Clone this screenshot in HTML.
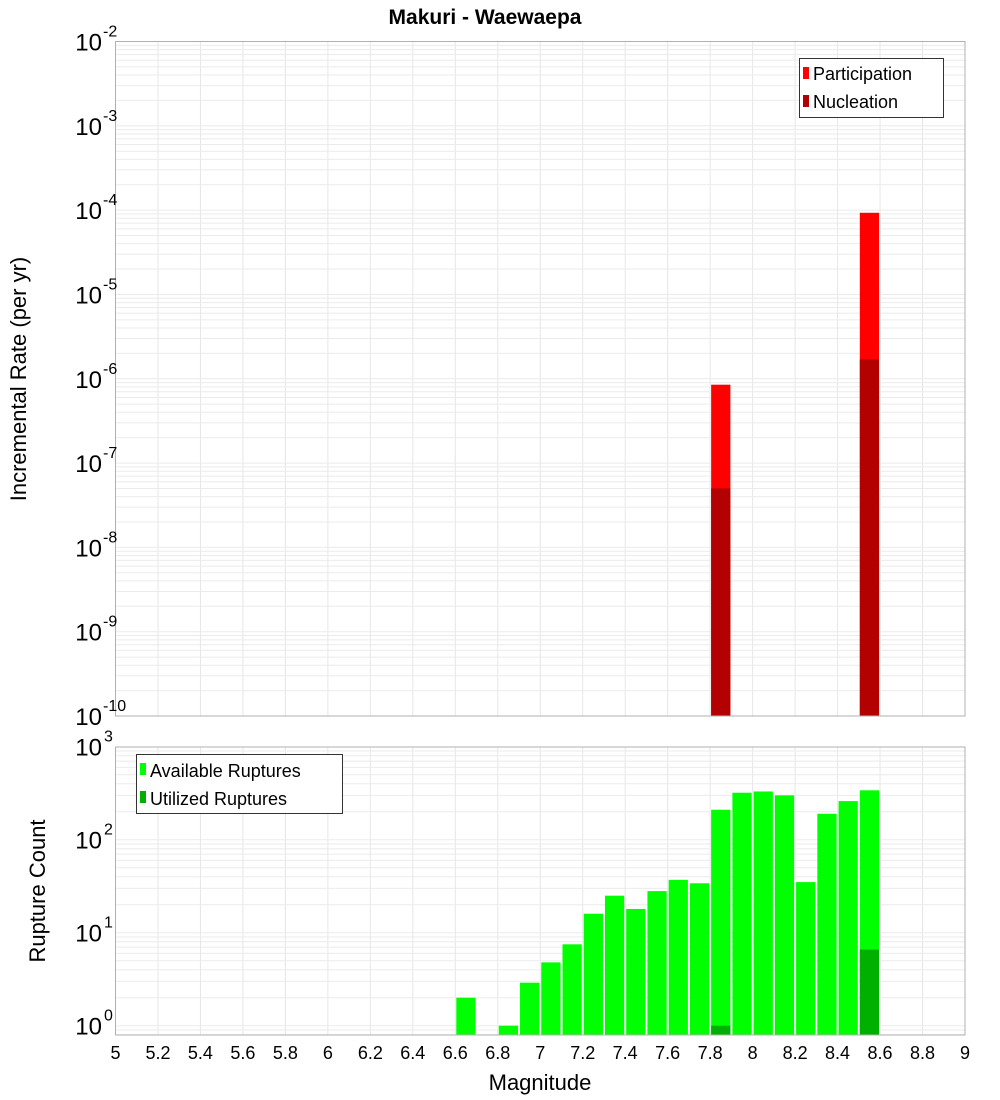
<!DOCTYPE html>
<html><head><meta charset="utf-8"><style>
body{margin:0;background:#fff;}
svg{display:block;font-family:"Liberation Sans","DejaVu Sans",sans-serif;}
</style></head><body>
<svg id="chart" width="1000" height="1100" xmlns="http://www.w3.org/2000/svg">
<text x="485" y="24" text-anchor="middle" font-size="21" font-weight="bold">Makuri - Waewaepa</text>
<g id="top-grid"></g>
<g id="bot-grid"></g>
<g id="top-bars"></g>
<g id="bot-bars"></g>
<rect x="115.5" y="41.5" width="849.5" height="674.5" fill="none" stroke="#b0b0b0"/>
<rect x="115.5" y="747" width="849.5" height="288" fill="none" stroke="#b0b0b0"/>
<g id="top-yticks"></g>
<g id="bot-yticks"></g>
<g id="xticks"></g>
<text transform="translate(26,379) rotate(-90)" text-anchor="middle" font-size="22">Incremental Rate (per yr)</text>
<text transform="translate(45,891) rotate(-90)" text-anchor="middle" font-size="22">Rupture Count</text>
<text x="540" y="1090" text-anchor="middle" font-size="22">Magnitude</text>
<g>
<rect x="799.5" y="58.5" width="144" height="59" fill="#fff" stroke="#333"/>
<rect x="803" y="67" width="6" height="12" fill="#ff0000"/>
<text x="813" y="80" font-size="18">Participation</text>
<rect x="803" y="95" width="6" height="12" fill="#b30000"/>
<text x="813" y="108" font-size="18">Nucleation</text>
</g>
<g>
<rect x="136.5" y="754.5" width="206" height="59" fill="#fff" stroke="#333"/>
<rect x="140" y="763" width="6" height="12" fill="#00ff00"/>
<text x="150" y="777" font-size="18">Available Ruptures</text>
<rect x="140" y="791" width="6" height="12" fill="#00b000"/>
<text x="150" y="805" font-size="18">Utilized Ruptures</text>
</g>
</svg>
<script>
const topMags=[7.85,8.55];
const participation=[8.5e-7,9.3e-5];
const nucleation=[5e-8,1.7e-6];
const botMags=[6.65,6.85,6.95,7.05,7.15,7.25,7.35,7.45,7.55,7.65,7.75,7.85,7.95,8.05,8.15,8.25,8.35,8.45,8.55];
const available=[2,1,2.9,4.8,7.5,16,25,18,28,37,34,210,320,330,300,35,190,260,340];
const utilMags=[7.85,8.55];
const utilized=[1,6.6];
const xTickLabels=["5","5.2","5.4","5.6","5.8","6","6.2","6.4","6.6","6.8","7","7.2","7.4","7.6","7.8","8","8.2","8.4","8.6","8.8","9"];
const topExps=[-10,-9,-8,-7,-6,-5,-4,-3,-2];
const botExps=[0,1,2,3];

const NS="http://www.w3.org/2000/svg";
const X0=115.5,X1=965,M0=5,M1=9;
const xs=m=>X0+(m-M0)*(X1-X0)/(M1-M0);
const TT=41.5,TB=716,TL0=-10,TL1=-2;
const yTop=v=>TB-(Math.log10(v)-TL0)*(TB-TT)/(TL1-TL0);
const BT=747,BB=1035,BL1=3,BDEC=93;
const yBot=v=>BB-9.3-(Math.log10(v))*BDEC;
const bw=(X1-X0)/40;
function mk(tag,attrs,parent){const e=document.createElementNS(NS,tag);for(const k in attrs)e.setAttribute(k,attrs[k]);parent.appendChild(e);return e;}

const tg=document.getElementById('top-grid'),bg=document.getElementById('bot-grid');
xTickLabels.forEach((t,i)=>{const x=xs(parseFloat(t));
 const l1=mk('line',{x1:x,x2:x,y1:TT,y2:TB,stroke:'#e6e6e6'},tg);
 
 
 const l2=mk('line',{x1:x,x2:x,y1:BT,y2:BB,stroke:'#e6e6e6'},bg);
 
 
});
for(let e=TL0;e<TL1;e++)for(let k=1;k<10;k++){const y=yTop(k*Math.pow(10,e));
 const l=mk('line',{x1:X0,x2:X1,y1:y,y2:y,stroke:'#ebebeb'},tg);
 
 }
for(let e=-1;e<BL1;e++)for(let k=1;k<10;k++){const y=yBot(k*Math.pow(10,e));if(y<BT||y>BB)continue;
 const l=mk('line',{x1:X0,x2:X1,y1:y,y2:y,stroke:'#ebebeb'},bg);
 
 }

const tb=document.getElementById('top-bars');
topMags.forEach((m,i)=>{
 const x=xs(m)-bw/2+1,w=bw-2;
 const p=mk('rect',{x:x,y:yTop(participation[i]),width:w,height:TB-yTop(participation[i]),fill:'#ff0000'},tb);
 
 
 const n=mk('rect',{x:x,y:yTop(nucleation[i]),width:w,height:TB-yTop(nucleation[i]),fill:'#b30000'},tb);
 
 
});
const bb=document.getElementById('bot-bars');
botMags.forEach((m,i)=>{
 const x=xs(m)-bw/2+1,w=bw-2,y=yBot(available[i]);
 const r=mk('rect',{x:x,y:y,width:w,height:BB-y,fill:'#00ff00'},bb);
 
 
});
utilMags.forEach((m,i)=>{
 const x=xs(m)-bw/2+1,w=bw-2,y=yBot(utilized[i]);
 const r=mk('rect',{x:x,y:y,width:w,height:BB-y,fill:'#00b000'},bb);
 
 
});

const ty=document.getElementById('top-yticks');
topExps.forEach(e=>{const y=yTop(Math.pow(10,e));
 const t=mk('text',{x:102,y:y+9,'text-anchor':'end','font-size':24},ty);t.textContent='10';
 
 
 const s=mk('text',{x:103,y:y-5,'font-size':16},ty);s.textContent=String(e);
 
 
});
const by=document.getElementById('bot-yticks');
botExps.forEach(e=>{const y=yBot(Math.pow(10,e));
 const t=mk('text',{x:102,y:y+9,'text-anchor':'end','font-size':24},by);t.textContent='10';
 
 
 const s=mk('text',{x:104,y:y-5,'font-size':16},by);s.textContent=String(e);
 
 
});
const xt=document.getElementById('xticks');
xTickLabels.forEach(l=>{
 const t=mk('text',{x:xs(parseFloat(l)),y:1059,'text-anchor':'middle','font-size':18},xt);t.textContent=l;
 
 
});
</script>
</body></html>
